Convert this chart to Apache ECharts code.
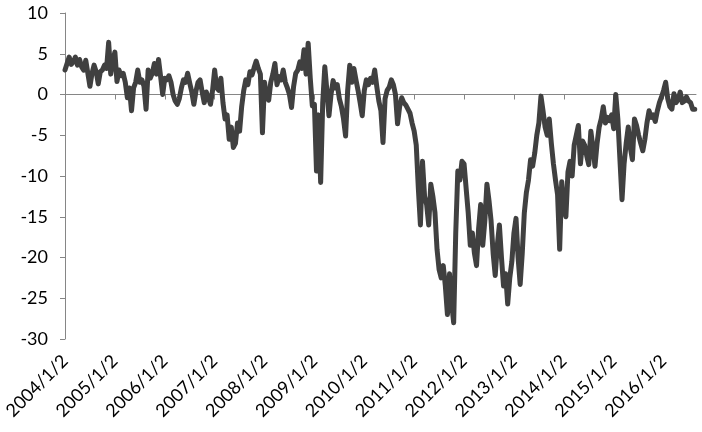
<!DOCTYPE html>
<html>
<head>
<meta charset="utf-8">
<script src="https://cdn.jsdelivr.net/npm/echarts@6/dist/echarts.min.js"></script>
<style>
  html, body { margin: 0; padding: 0; background: #fff; }
  #chart { width: 702px; height: 432px; }
</style>
</head>
<body>
<div id="chart"></div>
<script>
// readings every half month (24 per year), starting 2004/1/2
const startYear = 2004;
const pointsPerYear = 24;

const v2004 = [3.0, 3.8, 4.6, 3.7, 4.0, 4.6, 3.6, 4.3, 3.4, 3.0, 4.2, 2.6, 1.0, 2.6, 3.6, 2.8, 1.3, 2.8, 3.0, 3.6, 3.2, 6.4, 2.5, 4.2];
const v2005 = [5.2, 1.6, 3.0, 2.3, 2.6, 1.5, -0.4, 0.8, -2.0, 0.8, 1.5, 3.0, 1.5, 1.8, 1.0, -1.8, 3.0, 2.0, 2.6, 3.8, 2.5, 4.3, 2.2, 0.0];
const v2006 = [2.0, 1.8, 2.3, 1.5, 0.0, -0.8, -1.2, -0.5, 0.8, 1.8, 1.5, 2.6, 1.4, 0.3, -1.2, 0.4, 1.5, 1.8, 0.3, -1.0, 0.3, -0.4, -1.2, 0.5];
const v2007 = [3.0, 0.8, 0.5, 2.0, -1.0, -3.0, -2.5, -5.5, -4.0, -6.5, -6.0, -3.5, -4.5, -1.5, 0.5, 1.8, 1.2, 2.8, 2.4, 3.3, 4.1, 3.2, 2.5, -4.7];
const v2008 = [1.5, -0.3, -0.7, 1.5, 2.5, 3.8, 1.2, 2.2, 1.8, 3.0, 1.5, 0.8, 0.0, -1.6, 1.0, 2.6, 3.0, 4.0, 3.2, 5.5, 2.5, 6.3, 2.0, -1.4];
const v2009 = [-1.2, -9.4, -2.5, -10.8, -1.0, 3.4, 0.5, -2.6, 0.0, 1.7, 0.8, 1.2, -0.5, -1.5, -3.0, -5.1, 0.5, 3.6, 1.5, 3.2, 1.8, 0.5, -1.0, -2.6];
const v2010 = [0.5, 1.8, 1.2, 2.0, 1.5, 3.0, 1.0, -0.8, -2.0, -5.9, -0.5, 0.5, 0.9, 1.8, 1.2, 0.0, -3.6, -1.5, -0.4, -1.0, -1.3, -1.8, -2.3, -3.5];
const v2011 = [-4.5, -6.2, -11.5, -16.0, -8.2, -12.5, -13.5, -16.0, -11.0, -12.5, -14.5, -19.0, -21.5, -22.5, -21.0, -23.5, -27.0, -22.0, -25.5, -28.0, -17.0, -9.4, -10.5, -8.2];
const v2012 = [-8.5, -11.5, -14.5, -18.5, -17.0, -19.5, -21.0, -16.5, -13.5, -18.5, -15.5, -11.0, -13.0, -15.5, -19.5, -22.2, -18.5, -16.0, -20.0, -23.5, -22.0, -25.7, -22.5, -20.5];
const v2013 = [-17.0, -15.2, -20.0, -23.3, -19.5, -14.5, -12.0, -10.5, -8.0, -8.8, -7.2, -5.0, -3.5, -0.2, -2.0, -4.0, -5.0, -3.0, -6.0, -8.5, -10.5, -12.3, -19.0, -10.7];
const v2014 = [-14.0, -15.0, -9.5, -8.2, -10.0, -6.2, -5.0, -3.8, -8.5, -5.7, -6.2, -7.5, -8.6, -4.5, -6.5, -8.8, -6.0, -4.0, -3.0, -1.5, -3.5, -2.8, -3.2, -2.5];
const v2015 = [-4.2, 0.0, -3.0, -8.0, -12.9, -8.5, -6.0, -4.0, -6.5, -8.0, -3.0, -3.8, -5.0, -6.0, -6.9, -5.5, -3.5, -2.0, -2.8, -2.5, -3.3, -2.0, -1.0, -0.3];
const v2016 = [0.5, 1.5, -0.5, -1.5, -1.8, 0.1, -1.0, -0.6, 0.3, -1.0, -0.8, -0.3, -0.8, -1.0, -1.8, -1.8];

const tickYears = [2004, 2005, 2006, 2007, 2008, 2009, 2010, 2011, 2012, 2013, 2014, 2015, 2016];
const tickLabels = ['2004/1/2', '2005/1/2', '2006/1/2', '2007/1/2', '2008/1/2', '2009/1/2', '2010/1/2',
  '2011/1/2', '2012/1/2', '2013/1/2', '2014/1/2', '2015/1/2', '2016/1/2'];

const values = [].concat(v2004, v2005, v2006, v2007, v2008, v2009, v2010, v2011, v2012, v2013, v2014, v2015, v2016);
const seriesData = values.map((v, i) => [startYear + i / pointsPerYear, v]);

const chart = echarts.init(document.getElementById('chart'));
const font = 'Lato, "Liberation Sans", sans-serif';

chart.setOption({
  animation: false,
  backgroundColor: '#fff',
  grid: { left: 65, right: 6, top: 13, bottom: 93 },
  xAxis: [
    {
      type: 'value',
      position: 'bottom',
      min: 2004,
      max: 2016.65,
      axisLine: { show: false, onZero: false },
      axisTick: { show: false },
      splitLine: { show: false },
      axisLabel: {
        customValues: tickYears,
        rotate: 45,
        margin: 19,
        color: '#000',
        fontFamily: font,
        fontSize: 18,
        formatter: (val) => tickLabels[tickYears.indexOf(Math.round(val))] || ''
      }
    },
    {
      type: 'value',
      position: 'top',
      min: 2004,
      max: 2016.65,
      axisLine: { show: true, onZero: true, lineStyle: { color: '#868686', width: 1 } },
      axisTick: { show: true, inside: true, length: 5, customValues: tickYears, lineStyle: { color: '#868686' } },
      axisLabel: { show: false },
      splitLine: { show: false }
    }
  ],
  yAxis: {
    type: 'value',
    min: -30,
    max: 10,
    interval: 5,
    axisLine: { show: true, lineStyle: { color: '#868686', width: 1 } },
    axisTick: { show: true, length: 5, lineStyle: { color: '#868686' } },
    splitLine: { show: false },
    axisLabel: {
      margin: 17,
      color: '#000',
      fontFamily: font,
      fontSize: 18
    }
  },
  series: [
    {
      type: 'line',
      xAxisIndex: 0,
      data: seriesData,
      showSymbol: false,
      lineStyle: { color: '#404040', width: 5, join: 'round', cap: 'round' }
    }
  ]
});
</script>
</body>
</html>
